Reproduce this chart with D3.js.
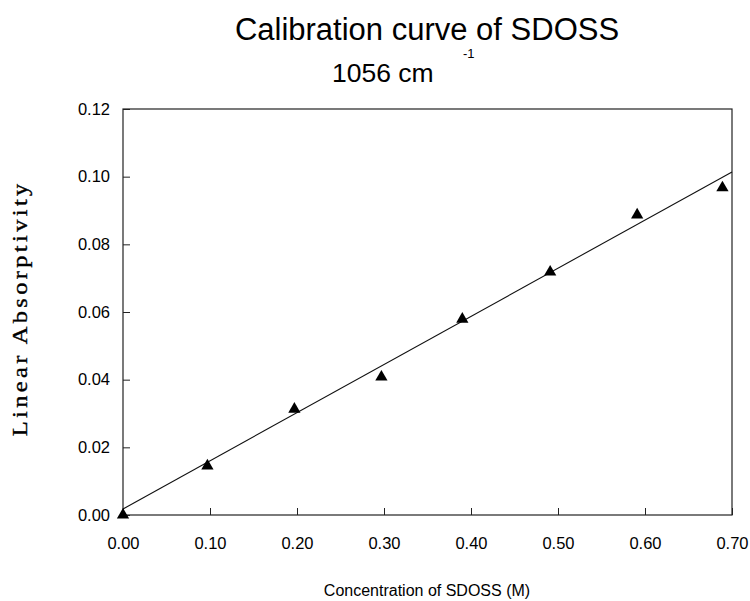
<!DOCTYPE html>
<html>
<head>
<meta charset="utf-8">
<script src="https://cdn.jsdelivr.net/npm/d3@7"></script>
<style>
  html, body { margin: 0; padding: 0; background: #fff; }
  svg { display: block; }
</style>
</head>
<body>
<script>
// ---- data ----
const concentration = [0, 0.097, 0.197, 0.297, 0.390, 0.491, 0.591, 0.689];
const absorptivity  = [0, 0.0145, 0.0313, 0.0408, 0.0579, 0.0718, 0.0887, 0.0967];
const fitX = [0, 0.70];
const fitY = [0.0018, 0.1014];
const xTicks = [0, 0.1, 0.2, 0.3, 0.4, 0.5, 0.6, 0.7];
const yTicks = [0, 0.02, 0.04, 0.06, 0.08, 0.10, 0.12];
const titleText = "Calibration curve of SDOSS";
const subtitleText = "1056 cm";
const subtitleSup = "-1";
const xLabel = "Concentration of SDOSS (M)";
const yLabel = "Linear Absorptivity";

const W = 750, H = 601;
const m = { left: 123, right: 732, top: 109, bottom: 515 };

const svg = d3.select("body").append("svg").attr("width", W).attr("height", H);

const x = d3.scaleLinear().domain([0, 0.7]).range([m.left, m.right]);
const y = d3.scaleLinear().domain([0, 0.12]).range([m.bottom, m.top]);

const sans = "'Liberation Sans', Arial, sans-serif";
const serif = "'Liberation Serif', 'Times New Roman', serif";

// frame
svg.append("rect")
  .attr("x", m.left).attr("y", m.top)
  .attr("width", m.right - m.left).attr("height", m.bottom - m.top)
  .attr("fill", "none").attr("stroke", "#222").attr("stroke-width", 1.2);

// axes
const xAxis = d3.axisBottom(x).tickValues(xTicks).tickFormat(d3.format(".2f"))
  .tickSizeInner(-7).tickSizeOuter(0).tickPadding(22);
const gx = svg.append("g").attr("transform", `translate(0,${m.bottom})`).call(xAxis);
gx.select(".domain").remove();
gx.selectAll(".tick line").attr("stroke", "#222");
gx.selectAll(".tick text").attr("font-family", sans).attr("font-size", 16.5).attr("fill", "#000");

const yAxis = d3.axisLeft(y).tickValues(yTicks).tickFormat(d3.format(".2f"))
  .tickSizeInner(-7).tickSizeOuter(0).tickPadding(13);
const gy = svg.append("g").attr("transform", `translate(${m.left},0)`).call(yAxis);
gy.select(".domain").remove();
gy.selectAll(".tick line").attr("stroke", "#222");
gy.selectAll(".tick text").attr("font-family", sans).attr("font-size", 16.5).attr("fill", "#000");

// fit line
const fit = fitX.map((v, i) => [v, fitY[i]]);
svg.append("path")
  .datum(fit)
  .attr("d", d3.line().x(d => x(d[0])).y(d => y(d[1])))
  .attr("fill", "none").attr("stroke", "#111").attr("stroke-width", 1.1);

// points
const pts = concentration.map((v, i) => [v, absorptivity[i]]);
svg.append("g").selectAll("path").data(pts).join("path")
  .attr("transform", d => `translate(${x(d[0])},${y(d[1])})`)
  .attr("d", d3.symbol().type(d3.symbolTriangle).size(65))
  .attr("fill", "#000");

// titles
svg.append("text").attr("x", 427).attr("y", 40)
  .attr("text-anchor", "middle").attr("font-family", sans).attr("font-size", 31)
  .attr("fill", "#000").text(titleText);
svg.append("text").attr("x", 332).attr("y", 82)
  .attr("font-family", sans).attr("font-size", 26.5).attr("fill", "#000").text(subtitleText);
svg.append("text").attr("x", 463).attr("y", 58)
  .attr("font-family", sans).attr("font-size", 13).attr("fill", "#000").text(subtitleSup);

// axis labels
svg.append("text").attr("x", 427).attr("y", 596)
  .attr("text-anchor", "middle").attr("font-family", sans).attr("font-size", 16)
  .attr("fill", "#000").text(xLabel);
svg.append("text")
  .attr("transform", "translate(27,310) rotate(-90) scale(1.22,1)")
  .attr("text-anchor", "middle").attr("font-family", serif).attr("font-size", 20)
  .attr("textLength", 207).attr("lengthAdjust", "spacing")
  .attr("fill", "#000").attr("stroke", "#000").attr("stroke-width", 0.35)
  .text(yLabel);
</script>
</body>
</html>
